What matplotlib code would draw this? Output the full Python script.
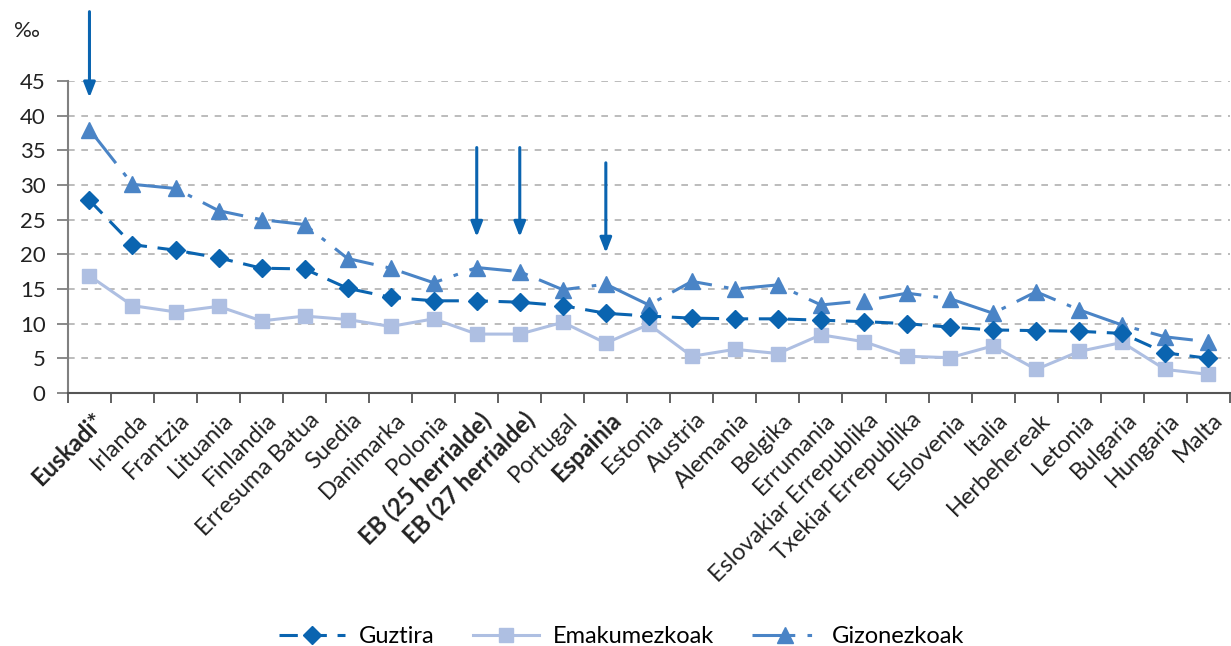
import matplotlib.pyplot as plt
import matplotlib.transforms as mtransforms
import numpy as np

plt.rcParams['font.family'] = ['Lato', 'DejaVu Sans']

herrialdeak = ['Euskadi*', 'Irlanda', 'Frantzia', 'Lituania', 'Finlandia',
               'Erresuma Batua', 'Suedia', 'Danimarka', 'Polonia',
               'EB (25 herrialde)', 'EB (27 herrialde)', 'Portugal', 'Espainia',
               'Estonia', 'Austria', 'Alemania', 'Belgika', 'Errumania',
               'Eslovakiar Errepublika', 'Txekiar Errepublika', 'Eslovenia',
               'Italia', 'Herbehereak', 'Letonia', 'Bulgaria', 'Hungaria', 'Malta']
nabarmenak = ['Euskadi*', 'EB (25 herrialde)', 'EB (27 herrialde)', 'Espainia']
geziak = ['Euskadi*', 'EB (25 herrialde)', 'EB (27 herrialde)', 'Espainia']

guztira = [27.8, 21.4, 20.6, 19.5, 18.0, 17.9, 15.1, 13.8, 13.3, 13.3, 13.1,
           12.6, 11.5, 11.1, 10.8, 10.7, 10.7, 10.5, 10.3, 10.0, 9.5, 9.1,
           9.0, 8.9, 8.6, 5.8, 5.0]
emakumeak = [16.9, 12.6, 11.7, 12.5, 10.4, 11.1, 10.6, 9.6, 10.7, 8.5, 8.5,
             10.2, 7.2, 9.9, 5.3, 6.3, 5.7, 8.4, 7.4, 5.3, 5.1, 6.8,
             3.4, 6.0, 7.3, 3.4, 2.7]
gizonak = [38.0, 30.1, 29.5, 26.3, 25.0, 24.3, 19.4, 18.0, 15.9, 18.1, 17.5,
           14.9, 15.7, 12.7, 16.1, 15.0, 15.6, 12.7, 13.3, 14.4, 13.6, 11.5,
           14.6, 12.0, 9.8, 8.1, 7.4]

c_guz = '#0a64b0'
c_ema = '#aebfe2'
c_giz = '#4a84c6'

fig = plt.figure(figsize=(12.31, 6.46), dpi=100)
ax = fig.add_axes([0.0552, 0.3916, 0.9438, 0.483])

x = np.arange(len(herrialdeak))

ax.plot(x, gizonak, color=c_giz, lw=2.2, marker='^', ms=12,
        dashes=[14, 4, 1.5, 4], label='Gizonezkoak', zorder=3)
ax.plot(x, emakumeak, color=c_ema, lw=2.2, marker='s', ms=10,
        label='Emakumezkoak', zorder=2)
ax.plot(x, guztira, color=c_guz, lw=2.2, marker='D', ms=9,
        dashes=[6, 3.5], label='Guztira', zorder=4)

# geziak
for h in geziak:
    i = herrialdeak.index(h)
    if h == 'Euskadi*':
        y0, y1 = 55.0, 42.6
    elif h == 'Espainia':
        y0, y1 = 33.2, 20.2
    else:
        y0, y1 = 35.4, 22.5
    ax.annotate('', xy=(i, y1), xytext=(i, y0), annotation_clip=False,
                arrowprops=dict(arrowstyle='-|>,head_length=0.9,head_width=0.35',
                                color=c_guz, lw=2.2, shrinkA=0, shrinkB=0))

ax.set_xlim(-0.5, len(herrialdeak) - 0.5)
ax.set_ylim(0, 45)
ax.set_yticks(np.arange(0, 46, 5))
ax.yaxis.grid(True, color='#b0b0b0', ls=(0, (4, 4)), lw=1.2)
ax.set_axisbelow(True)

ax.set_xticks(np.arange(-0.5, len(herrialdeak), 1))
ax.set_xticklabels([])
ax.tick_params(axis='x', length=7, width=1.3, color='#555555')
ax.tick_params(axis='y', length=8, width=1.3, color='#808080',
               labelsize=16, labelcolor='#222222', pad=8)

# herrialdeen izenak (45 gradu)
offset = mtransforms.ScaledTranslation(8 / 72, -17 / 72, fig.dpi_scale_trans)
for xi, izena in zip(x, herrialdeak):
    ax.text(xi, 0, izena, transform=ax.get_xaxis_transform() + offset,
            rotation=45, ha='right', va='center', rotation_mode='anchor',
            fontsize=17, color='#222222',
            fontweight='bold' if izena in nabarmenak else 'normal')

for s in ['top', 'right']:
    ax.spines[s].set_visible(False)
ax.spines['left'].set_color('#808080')
ax.spines['left'].set_linewidth(1.5)
ax.spines['bottom'].set_color('#555555')
ax.spines['bottom'].set_linewidth(1.5)

fig.text(0.011, 0.943, '‰', fontsize=16, color='#222222', va='baseline')

h, l = ax.get_legend_handles_labels()
fig.legend([h[2], h[1], h[0]], [l[2], l[1], l[0]], loc='lower center',
           bbox_to_anchor=(0.505, -0.035), ncol=3, frameon=False, fontsize=17,
           handlelength=2.8, columnspacing=1.6, handletextpad=0.6)

fig.savefig('out.png', dpi=100)
